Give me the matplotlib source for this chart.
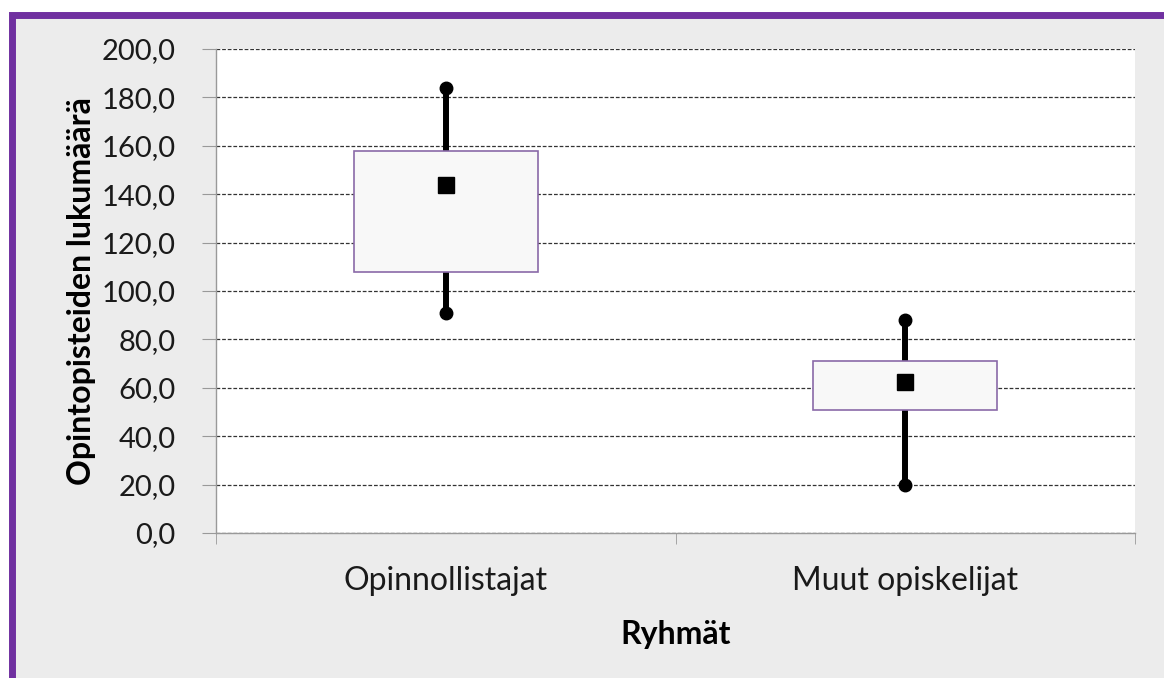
import numpy as np
import matplotlib
matplotlib.use("Agg")
import matplotlib.pyplot as plt
from matplotlib.patches import Rectangle
from matplotlib.ticker import FuncFormatter, MultipleLocator

plt.rcParams['font.family'] = ['Lato', 'DejaVu Sans']

# Data
groups = ["Opinnollistajat", "Muut opiskelijat"]
whisker_low = [91.0, 20.0]
box_low = [108.0, 51.0]
means = [144.0, 62.5]
box_high = [158.0, 71.0]
whisker_high = [184.0, 88.0]

purple = "#7030a0"
bg_gray = "#ececec"

fig = plt.figure(figsize=(11.64, 6.78), dpi=100)
fig.patch.set_facecolor("white")

# outer chart frame (purple top/left edge, grey fill)
W, H = 1164, 678
frame = Rectangle((11.5 / W, -0.05), 1.2, (H - 14.5) / H + 0.05,
                  transform=fig.transFigure, facecolor=bg_gray,
                  edgecolor=purple, linewidth=5, zorder=-1)
fig.patches.append(frame)

ax = fig.add_axes([216 / W, (H - 533) / H, (1135 - 216) / W, (533 - 49) / H])
ax.set_facecolor("white")

x = np.arange(len(groups))

# whiskers (drawn behind the boxes)
for xi, lo, hi in zip(x, whisker_low, whisker_high):
    ax.plot([xi, xi], [lo, hi], color="black", lw=4.3, zorder=3,
            marker="o", markersize=9, solid_capstyle="butt")

# boxes
ax.bar(x, np.array(box_high) - np.array(box_low), bottom=box_low, width=0.4,
       color="#f8f8f8", edgecolor="#8a6aa8", linewidth=1.2, zorder=4)

# mean markers
ax.plot(x, means, linestyle="none", marker="s", markersize=12,
        color="black", zorder=5)

ax.set_xlim(-0.5, 1.5)
ax.set_ylim(0, 200)
ax.yaxis.set_major_locator(MultipleLocator(20))
ax.yaxis.set_major_formatter(FuncFormatter(lambda v, p: f"{v:.1f}".replace(".", ",")))
ax.grid(axis="y", linestyle=(0, (3, 1.5)), color="#333333", linewidth=0.9, zorder=1)
ax.set_axisbelow(True)

ax.set_xticks(x)
ax.set_xticklabels(groups)
ax.set_xticks([-0.5, 0.5, 1.5], minor=True)
ax.tick_params(axis="x", which="major", length=0, pad=24, labelsize=23, colors="#1a1a1a")
ax.tick_params(axis="x", which="minor", length=8, color="#999999", direction="out")
ax.tick_params(axis="y", length=10, color="#999999", labelsize=21, pad=19, labelcolor="#1a1a1a")

for side in ["top", "right"]:
    ax.spines[side].set_visible(False)
for side in ["left", "bottom"]:
    ax.spines[side].set_color("#999999")
    ax.spines[side].set_linewidth(1.0)

ax.set_ylabel("Opintopisteiden lukumäärä", fontsize=23, fontweight="bold", labelpad=4)
ax.set_xlabel("Ryhmät", fontsize=23, fontweight="bold", labelpad=17)

fig.savefig("out.png", dpi=100, facecolor=fig.get_facecolor())
